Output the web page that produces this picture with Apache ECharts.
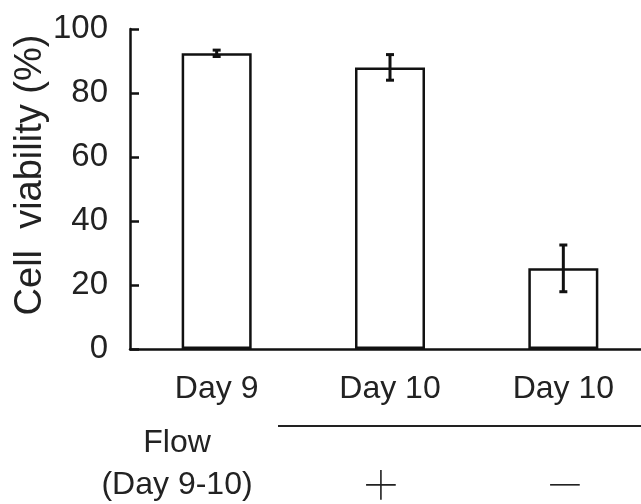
<!DOCTYPE html>
<html>
<head>
<meta charset="utf-8">
<script src="https://cdn.jsdelivr.net/npm/echarts@6/dist/echarts.min.js"></script>
<style>
  html, body { margin: 0; padding: 0; background: #fff; }
  #chart { width: 641px; height: 504px; }
</style>
</head>
<body>
<div id="chart"></div>
<script>
const categories = ['Day 9', 'Day 10', 'Day 10'];
const viability = [92.4, 88.0, 25.2];
const errors = [1.0, 4.0, 7.3];
const flowSigns = ['', '+', '−'];
const yTicks = [0, 20, 40, 60, 80, 100];

const FONT = 'Liberation Sans, Arial, sans-serif';
const chart = echarts.init(document.getElementById('chart'), null, { renderer: 'canvas' });

const errData = viability.map((v, i) => [i, v + errors[i], v - errors[i]]);

const option = {
  animation: false,
  backgroundColor: '#ffffff',
  grid: { left: 130, right: -9, top: 29, bottom: 155, containLabel: false, outerBoundsMode: 'none' },
  xAxis: {
    type: 'category',
    data: categories,
    axisLine: { lineStyle: { color: '#111', width: 2.5 } },
    axisTick: { show: false },
    axisLabel: { color: '#222', fontFamily: FONT, fontSize: 32, margin: 24 }
  },
  yAxis: {
    type: 'value',
    min: yTicks[0],
    max: yTicks[yTicks.length - 1],
    interval: 20,
    name: 'Cell  viability (%)',
    nameLocation: 'middle',
    nameGap: 80,
    nameMoveOverlap: false,
    nameRotate: 90,
    nameTextStyle: { color: '#222', fontFamily: FONT, fontSize: 38, padding: [0, 0, 0, 28] },
    axisLine: { show: true, lineStyle: { color: '#111', width: 2.5 } },
    axisTick: { show: true, inside: true, length: 9, lineStyle: { color: '#111', width: 2.5 } },
    splitLine: { show: false },
    axisLabel: { color: '#222', fontFamily: FONT, fontSize: 33, margin: 22 }
  },
  series: [
    {
      type: 'bar',
      data: viability,
      barWidth: 70,
      itemStyle: { color: '#fff', borderColor: '#111', borderWidth: 2.5 },
      z: 2
    },
    {
      type: 'custom',
      data: errData,
      z: 3,
      renderItem: function (params, api) {
        const x = api.value(0);
        const hi = api.coord([x, api.value(1)]);
        const lo = api.coord([x, api.value(2)]);
        const hw = 4;
        const st = { stroke: '#111', lineWidth: 3 };
        return {
          type: 'group',
          children: [
            { type: 'line', shape: { x1: hi[0], y1: hi[1], x2: lo[0], y2: lo[1] }, style: st },
            { type: 'line', shape: { x1: hi[0] - hw, y1: hi[1], x2: hi[0] + hw, y2: hi[1] }, style: st },
            { type: 'line', shape: { x1: lo[0] - hw, y1: lo[1], x2: lo[0] + hw, y2: lo[1] }, style: st }
          ]
        };
      }
    }
  ],
  graphic: [
    { type: 'line', shape: { x1: 278, y1: 426, x2: 641, y2: 426 }, style: { stroke: '#222', lineWidth: 2 } },
    { type: 'text', x: 177, y: 443, style: { text: 'Flow', fontFamily: FONT, fontSize: 32, fill: '#222', align: 'center', verticalAlign: 'middle' } },
    { type: 'text', x: 177, y: 485, style: { text: '(Day 9-10)', fontFamily: FONT, fontSize: 32, fill: '#222', align: 'center', verticalAlign: 'middle' } },
    { type: 'text', x: 381, y: 483, style: { text: flowSigns[1], fontFamily: 'Inter', fontWeight: 100, fontSize: 72, fill: '#222', align: 'center', verticalAlign: 'middle' } },
    { type: 'text', x: 565, y: 483, style: { text: flowSigns[2], fontFamily: 'Inter', fontWeight: 100, fontSize: 72, fill: '#222', align: 'center', verticalAlign: 'middle' } }
  ]
};
chart.setOption(option);
</script>
</body>
</html>
